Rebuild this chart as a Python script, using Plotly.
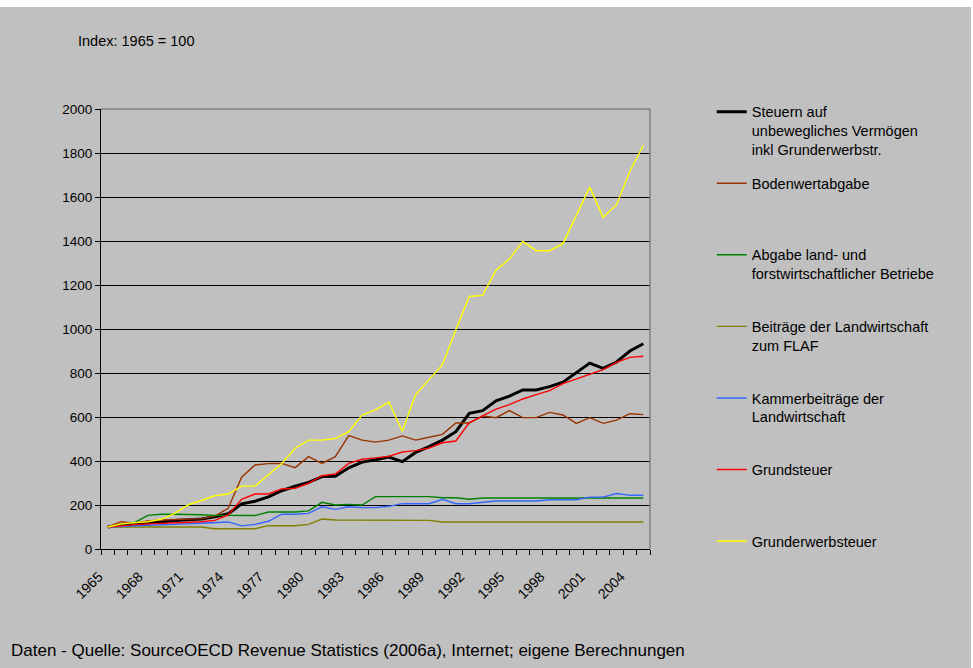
import plotly.graph_objects as go

years = list(range(1965, 2006))

steuern_gesamt = [100, 109, 114, 117, 123, 129, 132, 136, 147, 160,
                  205, 217, 237, 265, 285, 303, 329, 331, 369, 395,
                  406, 418, 397, 439, 465, 495, 533, 617, 629, 674,
                  695, 723, 723, 738, 758, 800, 845, 821, 850, 900,
                  933]
bodenwertabgabe = [100, 124, 117, 127, 132, 135, 138, 138, 150, 185,
                   326, 382, 388, 389, 370, 420, 389, 420, 515, 495,
                   486, 495, 514, 495, 508, 521, 573, 573, 605, 597,
                   629, 597, 597, 621, 609, 571, 597, 571, 586, 615,
                   611]
abgabe_lf = [100, 109, 120, 153, 158, 158, 158, 156, 153, 152,
             152, 152, 168, 168, 168, 173, 212, 200, 203, 200,
             238, 238, 238, 238, 238, 233, 233, 226, 232, 232,
             232, 232, 232, 232, 232, 232, 232, 232, 232, 232,
             232]
flaf = [100, 100, 100, 100, 100, 100, 100, 100, 92, 92,
        92, 92, 106, 106, 106, 112, 136, 132, 132, 132,
        130, 130, 130, 130, 130, 123, 123, 123, 123, 123,
        123, 123, 123, 123, 123, 123, 123, 123, 123, 123,
        123]
kammer = [100, 101, 105, 108, 109, 111, 114, 117, 120, 123,
          105, 112, 126, 158, 158, 162, 192, 180, 192, 188,
          188, 194, 206, 206, 206, 226, 206, 206, 212, 218,
          218, 218, 218, 224, 224, 224, 236, 236, 252, 244,
          244]
grundsteuer = [100, 106, 111, 114, 117, 118, 120, 124, 130, 155,
               226, 250, 250, 273, 276, 298, 333, 341, 389, 408,
               414, 421, 441, 447, 459, 483, 491, 574, 605, 636,
               656, 682, 702, 720, 752, 773, 797, 815, 848, 871,
               876]
grunderwerb = [100, 114, 120, 124, 135, 162, 200, 220, 242, 250,
               286, 286, 336, 389, 458, 495, 495, 502, 533, 609,
               632, 668, 535, 702, 770, 838, 997, 1148, 1153, 1267,
               1318, 1398, 1356, 1356, 1388, 1515, 1645, 1508, 1565, 1717,
               1835]

names = [
    "Steuern auf<br>unbewegliches Vermögen<br>inkl Grunderwerbstr.",
    "Bodenwertabgabe<br> <br> ",
    "Abgabe land- und<br>forstwirtschaftlicher Betriebe<br> ",
    "Beiträge der Landwirtschaft<br>zum FLAF<br> ",
    "Kammerbeiträge der<br>Landwirtschaft<br> ",
    "Grundsteuer<br> <br> ",
    "Grunderwerbsteuer<br> <br> ",
]
series = [steuern_gesamt, bodenwertabgabe, abgabe_lf, flaf, kammer, grundsteuer, grunderwerb]
colors = ["#000000", "#993300", "#008000", "#808000", "#3366FF", "#FF0000", "#FFFF00"]
widths = [3, 1.4, 1.4, 1.4, 1.4, 1.4, 1.4]

FONT = "Liberation Sans, Arial, sans-serif"

fig = go.Figure()
for i, (n, s, c, w) in enumerate(zip(names, series, colors, widths)):
    fig.add_trace(go.Scatter(x=years, y=s, mode="lines", name=n,
                             legendgroup=f"g{i}",
                             line=dict(color=c, width=w)))

fig.update_layout(
    width=973, height=668,
    paper_bgcolor="#C0C0C0", plot_bgcolor="#C0C0C0",
    margin=dict(l=101, r=323, t=109, b=119),
    font=dict(family=FONT, size=13, color="#000000"),
    showlegend=True,
    legend=dict(x=1.1125, y=1.03, xanchor="left", yanchor="top",
                bgcolor="rgba(0,0,0,0)", borderwidth=0,
                font=dict(family=FONT, size=14.5, color="#000000"),
                valign="top", tracegroupgap=12, traceorder="grouped",
                maxheight=640),
    xaxis=dict(range=[1964.5, 2005.5], tickmode="linear", tick0=1965, dtick=3,
               tickangle=-45, ticks="", showgrid=False, zeroline=False,
               showline=True, linecolor="#000000", linewidth=1.2,
               tickfont=dict(family=FONT, size=14),
               ticklabelstandoff=13, ticklabelshift=-9,
               minor=dict(tick0=1964.5, dtick=1, ticks="outside", ticklen=5,
                          tickcolor="#000000", showgrid=False)),
    yaxis=dict(range=[0, 2000], tickmode="linear", tick0=0, dtick=200,
               showgrid=True, gridcolor="#000000", gridwidth=1,
               zeroline=False, showline=True, linecolor="#000000", linewidth=1.2,
               ticks="outside", ticklen=5, tickcolor="#000000",
               tickfont=dict(family=FONT, size=13.5)),
    shapes=[
        dict(type="rect", xref="paper", yref="paper", x0=-0.3, x1=1.7,
             y0=(549 - 7) / 440, y1=1.4, fillcolor="#FFFFFF",
             line=dict(width=0), layer="below"),
        dict(type="rect", xref="paper", yref="paper", x0=(971 - 101) / 549, x1=1.7,
             y0=-0.4, y1=1.4, fillcolor="#FFFFFF",
             line=dict(width=0), layer="below"),
        dict(type="line", xref="paper", yref="paper", x0=0, x1=1, y0=1, y1=1,
             line=dict(color="#808080", width=1.5), layer="above"),
        dict(type="line", xref="paper", yref="paper", x0=1, x1=1, y0=0, y1=1,
             line=dict(color="#808080", width=1.5), layer="above"),
    ],
    annotations=[
        dict(text="Index: 1965 = 100", xref="paper", yref="paper",
             x=(76 - 101) / 549, y=(549 - 41) / 440, xanchor="left", yanchor="middle",
             showarrow=False, font=dict(family=FONT, size=14.5)),
        dict(text="Daten - Quelle: SourceOECD Revenue Statistics (2006a), Internet; eigene Berechnungen",
             xref="paper", yref="paper",
             x=(9 - 101) / 549, y=(549 - 650) / 440, xanchor="left", yanchor="middle",
             showarrow=False, font=dict(family=FONT, size=17)),
    ],
)

fig.write_html("out.html", config={"displayModeBar": False},
               post_script="document.body.style.margin='0';")
